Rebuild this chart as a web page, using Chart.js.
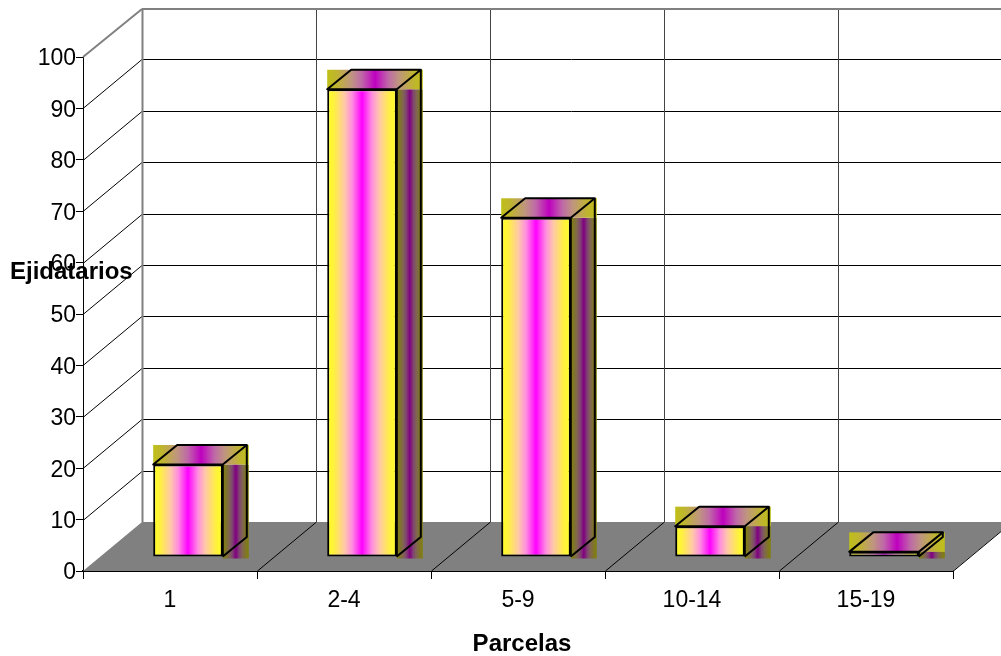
<!DOCTYPE html>
<html>
<head>
<meta charset="utf-8">
<title>Ejidatarios por parcelas</title>
<script src="https://cdn.jsdelivr.net/npm/chart.js@4"></script>
<style>
    html, body { margin: 0; padding: 0; background: #fff; }
    canvas { display: block; }
</style>
</head>
<body>
<canvas id="chart" width="1001" height="656"></canvas>
<script>
const categories = ['1', '2-4', '5-9', '10-14', '15-19'];
const ejidatarios = [18, 91, 66, 6, 1];
const xTitle = 'Parcelas';
const yTitle = 'Ejidatarios';

// offset of the back wall from the front plane
const DEPTH_X = 59;
const DEPTH_Y = 49;
// where the front face of a bar sits inside that depth
const BAR_SHIFT_X = 18;
const BAR_SHIFT_Y = -14;
// how deep a bar is
const BAR_DEPTH_X = 24;
const BAR_DEPTH_Y = 19.5;

const FONT = '"Liberation Sans", Arial, sans-serif';
const FONT_SIZE = 23;
const TITLE_SIZE = 24;

// left half of the bar shading, mirrored around the centre
const BAND_STOPS = [
    [0, [255, 255, 32]],
    [0.1, [255, 240, 64]],
    [0.25, [255, 200, 168]],
    [0.36, [255, 140, 224]],
    [0.5, [255, 0, 255]]
];

/**
 * horizontal band running from the end colour to the centre colour and back
 * @param ctx {CanvasRenderingContext2D}
 * @param left {number}
 * @param right {number}
 * @param shade {number} 1 = front, 0.75 = top, 0.5 = side
 * @returns {CanvasGradient}
 */
function band(ctx, left, right, shade) {
    let gradient = ctx.createLinearGradient(left, 0, right, 0);
    BAND_STOPS.forEach(([offset, rgb]) => {
        let colour = `rgb(${rgb.map(c => Math.round(c * shade)).join(',')})`;
        gradient.addColorStop(offset, colour);
        gradient.addColorStop(1 - offset, colour);
    });
    return gradient;
}

function line(ctx, x1, y1, x2, y2) {
    ctx.beginPath();
    ctx.moveTo(x1, y1);
    ctx.lineTo(x2, y2);
    ctx.stroke();
}

/**
 * moves the labels of an axis by some pixels, the options only allow a gap
 * @param scale {Object}
 * @param dy {number}
 */
function nudgeLabels(scale, dy) {
    let drawLabels = scale.drawLabels;
    scale.drawLabels = function (chartArea) {
        this.ctx.save();
        this.ctx.translate(0, dy);
        drawLabels.call(this, chartArea);
        this.ctx.restore();
    };
}

/**
 * walls, floor and grid behind the bars, taken from the scales
 */
const roomPlugin = {
    id: 'room',
    afterLayout(chart) {
        nudgeLabels(chart.scales.y, 2);
    },
    beforeDatasetsDraw(chart) {
        let ctx = chart.ctx;
        let {x: xScale, y: yScale} = chart.scales;
        let left = xScale.left;
        let right = xScale.right;
        let zero = yScale.getPixelForValue(0);
        let top = yScale.getPixelForValue(100);
        let step = xScale.getPixelForValue(1) - xScale.getPixelForValue(0);
        let edges = categories.map((c, i) => xScale.getPixelForValue(i) + step / 2);

        ctx.save();
        ctx.fillStyle = '#808080';
        ctx.beginPath();
        ctx.moveTo(left, zero);
        ctx.lineTo(right, zero);
        ctx.lineTo(right + DEPTH_X, zero - DEPTH_Y);
        ctx.lineTo(left + DEPTH_X, zero - DEPTH_Y);
        ctx.closePath();
        ctx.fill();

        ctx.strokeStyle = '#000';
        ctx.lineWidth = 1;
        yScale.ticks.forEach(tick => {
            if (tick.value === 0 || tick.value === 100) {
                return;
            }
            let y = Math.round(yScale.getPixelForValue(tick.value)) + 0.5;
            line(ctx, left, y, left + DEPTH_X, y - DEPTH_Y);
            line(ctx, left + DEPTH_X, y - DEPTH_Y, chart.width, y - DEPTH_Y);
        });

        edges.forEach((x, i) => {
            let px = Math.round(x) + 0.5;
            line(ctx, px, zero, px + DEPTH_X, zero - DEPTH_Y);
            if (i < edges.length - 1) {
                ctx.strokeStyle = '#444';
                line(ctx, px + DEPTH_X, zero - DEPTH_Y, px + DEPTH_X, top - DEPTH_Y);
                ctx.strokeStyle = '#000';
            }
        });

        ctx.strokeStyle = '#808080';
        ctx.lineWidth = 2;
        line(ctx, left, top, left + DEPTH_X, top - DEPTH_Y + 1);
        line(ctx, left + DEPTH_X, top - DEPTH_Y + 1, chart.width, top - DEPTH_Y + 1);
        line(ctx, left + DEPTH_X + 0.5, top - DEPTH_Y + 1, left + DEPTH_X + 0.5, zero - DEPTH_Y);
        ctx.restore();

        // the library draws the bar fronts next, shifted into the room
        ctx.save();
        ctx.translate(BAR_SHIFT_X, BAR_SHIFT_Y);
    },
    afterDatasetsDraw(chart) {
        let ctx = chart.ctx;
        ctx.restore();

        ctx.save();
        chart.getDatasetMeta(0).data.forEach(bar => {
            let left = bar.x - bar.width / 2 + BAR_SHIFT_X;
            let right = bar.x + bar.width / 2 + BAR_SHIFT_X;
            let top = bar.y + BAR_SHIFT_Y;
            let bottom = bar.base + BAR_SHIFT_Y;
            let farRight = right + BAR_DEPTH_X;
            let farTop = top - BAR_DEPTH_Y;
            let patchRight = farRight + 2;

            // the shaded faces are square patches, the outlines cut them to shape
            ctx.fillStyle = band(ctx, right, patchRight, 0.5);
            ctx.fillRect(right, top, patchRight - right, bottom + 2 - top);
            ctx.fillStyle = band(ctx, left, patchRight, 0.75);
            ctx.fillRect(left, farTop, patchRight - left, top - farTop);

            ctx.strokeStyle = '#000';
            ctx.lineWidth = 2;
            ctx.lineJoin = 'round';
            ctx.beginPath();
            ctx.moveTo(left, top);
            ctx.lineTo(left + BAR_DEPTH_X, farTop);
            ctx.lineTo(farRight, farTop);
            ctx.lineTo(right, top);
            ctx.closePath();
            ctx.stroke();

            ctx.beginPath();
            ctx.moveTo(farRight, farTop);
            ctx.lineTo(farRight, bottom - BAR_DEPTH_Y);
            ctx.lineTo(right, bottom);
            ctx.stroke();
            line(ctx, right, top, right, bottom);
        });
        ctx.restore();
    },
    afterDraw(chart) {
        let ctx = chart.ctx;
        ctx.save();
        ctx.fillStyle = '#000';
        ctx.font = `bold ${TITLE_SIZE}px ${FONT}`;
        ctx.textBaseline = 'middle';
        ctx.textAlign = 'left';
        ctx.fillText(yTitle, 10, 272);
        ctx.textAlign = 'center';
        ctx.fillText(xTitle, 522, 644);
        ctx.restore();
    }
};

new Chart(document.getElementById('chart'), {
    type: 'bar',
    data: {
        labels: categories,
        datasets: [{
            data: ejidatarios,
            barPercentage: 0.4,
            categoryPercentage: 1,
            borderColor: '#000',
            borderWidth: 2,
            borderSkipped: false,
            backgroundColor: function (context) {
                let chart = context.chart;
                let xScale = chart.scales.x;
                if (!xScale || !chart.chartArea) {
                    return '#ff00ff';
                }
                let center = xScale.getPixelForValue(context.dataIndex);
                let halfWidth = (xScale.getPixelForValue(1) - xScale.getPixelForValue(0)) * 0.2;
                return band(chart.ctx, center - halfWidth, center + halfWidth, 1);
            }
        }]
    },
    options: {
        responsive: false,
        animation: false,
        layout: {padding: {top: 57, right: 48, left: 0, bottom: 0}},
        plugins: {
            legend: {display: false},
            tooltip: {enabled: false}
        },
        scales: {
            x: {
                afterFit: scale => { scale.height = 85; },
                grid: {drawOnChartArea: false, color: '#000', tickLength: 8},
                border: {color: '#000', width: 2},
                ticks: {color: '#000', padding: 8, maxRotation: 0, font: {family: FONT, size: FONT_SIZE}}
            },
            y: {
                min: 0,
                max: 100,
                afterFit: scale => { scale.width = 83; },
                grid: {drawOnChartArea: false, color: '#000', tickLength: 7},
                border: {color: '#000', width: 1},
                ticks: {color: '#000', stepSize: 10, padding: 0, font: {family: FONT, size: FONT_SIZE}}
            }
        }
    },
    plugins: [roomPlugin]
});
</script>
</body>
</html>
